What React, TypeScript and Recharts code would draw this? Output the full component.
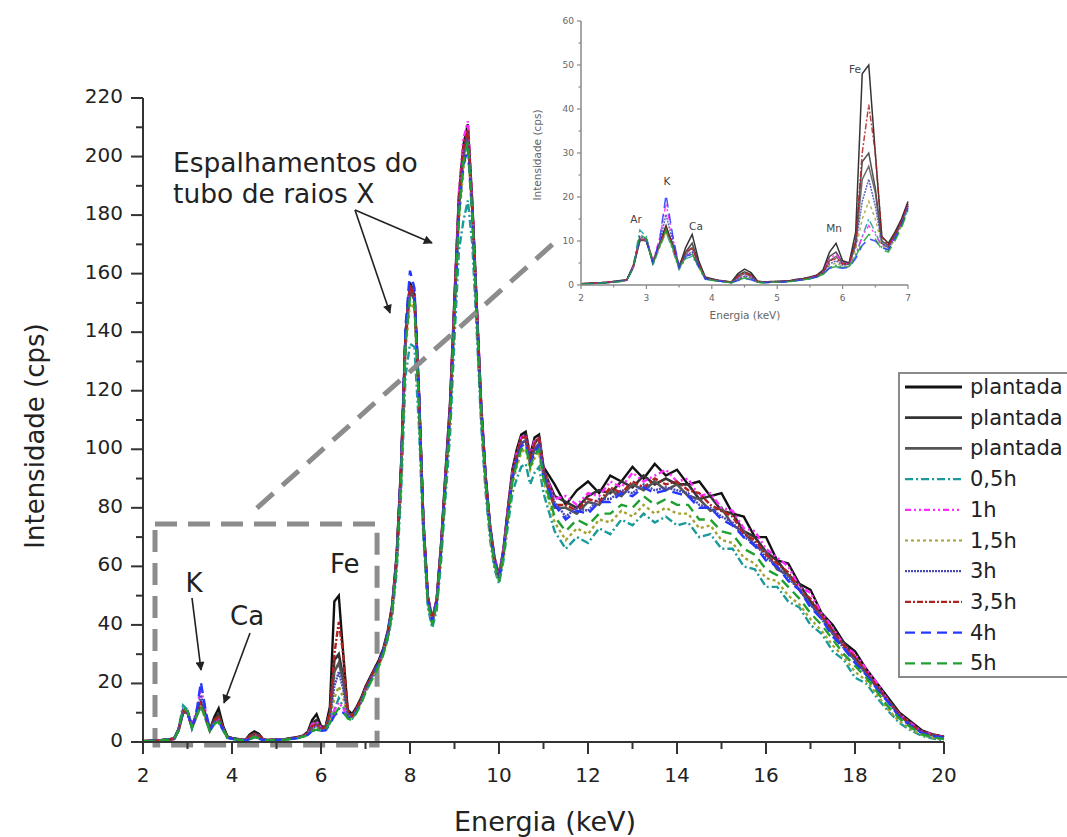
import React from 'react';
import { LineChart, Line, XAxis, YAxis, ReferenceArea, ReferenceLine } from 'recharts';

// energy channels (keV)
const energies = [
  2.0, 2.1, 2.2, 2.3, 2.4, 2.5, 2.6, 2.7, 2.8, 2.9,
  3.0, 3.1, 3.2, 3.3, 3.4, 3.5, 3.6, 3.7, 3.8, 3.9,
  4.0, 4.1, 4.2, 4.3, 4.4, 4.5, 4.6, 4.7, 4.8, 4.9,
  5.0, 5.1, 5.2, 5.3, 5.4, 5.5, 5.6, 5.7, 5.8, 5.9,
  6.0, 6.1, 6.2, 6.3, 6.4, 6.5, 6.6, 6.7, 6.8, 6.9,
  7.0, 7.1, 7.2,
  7.3, 7.4, 7.5, 7.6, 7.7, 7.8, 7.9,
  8.0, 8.1, 8.2, 8.3, 8.4, 8.5, 8.6, 8.7, 8.8, 8.9,
  9.0, 9.1, 9.2, 9.3, 9.4, 9.5, 9.6, 9.7, 9.8, 9.9,
  10.0, 10.1, 10.2, 10.3, 10.4, 10.5, 10.6, 10.7, 10.8, 10.9,
  11.0,
  11.25, 11.5, 11.75, 12.0, 12.25, 12.5, 12.75, 13.0, 13.25, 13.5,
  13.75, 14.0, 14.25, 14.5, 14.75, 15.0, 15.25, 15.5, 15.75, 16.0,
  16.25, 16.5, 16.75, 17.0, 17.25, 17.5, 17.75, 18.0, 18.25, 18.5,
  18.75, 19.0, 19.25, 19.5, 19.75, 20.0,
];

const plantada1 = [
  0.3, 0.4, 0.5, 0.5, 0.6, 0.8, 1.0, 1.2, 4.5, 10.5, 10.0, 5.0, 9.5, 13.5, 9.0, 4.0, 8.5, 11.5, 5.5, 1.8,
  1.4, 1.1, 0.9, 0.7, 2.6, 3.6, 2.8, 0.9, 0.7, 0.8, 0.8, 0.9, 1.0, 1.3, 1.5, 1.8, 2.2, 3.4, 7.5, 9.5,
  5.5, 5.0, 12.0, 48.0, 50.0, 30.0, 11.0, 9.5, 12.0, 15.0, 19.0, 22.0, 25.0,
  28, 32, 38, 47, 64, 95, 140, 157, 153, 120, 76, 50, 42, 49, 68, 93, 116,
  152, 187, 204, 211, 184, 149, 115, 91, 74, 63, 57, 66, 80, 93, 100, 105, 106, 98, 104, 105, 94,
  88, 81, 86, 89, 85, 91, 89, 94, 90, 95, 91, 93, 88, 89, 84, 85, 78, 77, 70, 70,
  62, 61, 54, 52, 44, 40, 34, 31, 25, 20, 15, 10, 7, 4, 2.6, 1.8,
];
const plantada2 = [
  0.3, 0.3, 0.4, 0.5, 0.6, 0.8, 0.9, 1.1, 4.0, 10.0, 10.5, 5.5, 9.0, 13.0, 9.5, 4.5, 7.5, 9.5, 5.0, 1.5,
  1.3, 1.0, 0.8, 0.6, 2.2, 3.0, 2.4, 0.8, 0.6, 0.7, 0.8, 0.8, 0.9, 1.2, 1.4, 1.7, 2.1, 3.0, 6.5, 7.5,
  5.0, 5.0, 10.0, 28.0, 30.0, 22.0, 10.0, 9.0, 11.5, 14.5, 18.5, 21.5, 24.5,
  27, 31, 37, 46, 63, 93, 139, 156, 152, 119, 75, 49, 41, 48, 67, 91, 114,
  150, 185, 202, 209, 183, 148, 114, 90, 73, 62, 56, 65, 79, 91, 98, 104, 105, 97, 102, 104, 93,
  84, 82, 80, 84, 86, 85, 89, 87, 91, 88, 90, 88, 88, 83, 84, 79, 78, 72, 70, 65,
  62, 57, 54, 48, 44, 38, 34, 29, 24, 19, 14.5, 9.5, 6.5, 3.5, 2.5, 1.6,
];
const plantada3 = [
  0.2, 0.3, 0.4, 0.5, 0.5, 0.7, 0.9, 1.1, 4.2, 10.2, 10.0, 5.2, 9.2, 12.5, 9.0, 4.2, 7.0, 8.5, 4.8, 1.6,
  1.2, 1.0, 0.8, 0.6, 1.8, 2.6, 2.0, 0.8, 0.6, 0.7, 0.7, 0.8, 0.9, 1.1, 1.4, 1.6, 2.0, 2.8, 5.5, 6.5,
  4.8, 4.6, 9.0, 24.0, 27.0, 21.0, 9.5, 8.5, 11.0, 14.0, 18.0, 21.0, 24.0,
  27, 31, 36, 45, 62, 92, 137, 154, 151, 118, 74, 49, 41, 48, 66, 90, 112,
  148, 183, 200, 207, 182, 147, 113, 89, 72, 61, 56, 64, 78, 90, 97, 102, 103, 95, 100, 102, 91,
  80, 80, 78, 82, 81, 86, 84, 88, 86, 89, 86, 88, 84, 83, 79, 80, 74, 72, 67, 65,
  59, 57, 52, 47, 43, 37, 33, 28, 23.5, 18.5, 14, 9, 6, 3.3, 2.3, 1.5,
];
const h05 = [
  0.2, 0.3, 0.3, 0.4, 0.5, 0.6, 0.8, 1.0, 4.5, 12.5, 11.0, 4.5, 8.5, 12.0, 8.0, 3.5, 6.0, 6.5, 4.0, 1.3,
  1.1, 0.9, 0.7, 0.5, 1.2, 1.8, 1.5, 0.6, 0.5, 0.6, 0.7, 0.7, 0.8, 1.0, 1.2, 1.4, 1.8, 2.4, 4.0, 4.5,
  4.0, 4.2, 6.5, 11.0, 15.0, 12.0, 8.5, 8.0, 10.5, 13.5, 17.0, 20.0, 23.0,
  26, 30, 35, 43, 58, 85, 125, 136, 135, 108, 70, 46, 39, 45, 62, 84, 105,
  138, 168, 178, 185, 170, 140, 108, 85, 69, 59, 54, 62, 74, 85, 90, 94, 95, 88, 92, 94, 85,
  72, 66, 70, 68, 73, 71, 76, 74, 78, 75, 77, 74, 75, 70, 71, 66, 66, 60, 59, 53,
  53, 48, 46, 40, 37, 31, 28, 22, 20, 15, 10.5, 6.5, 4, 2.1, 1.2, 0.6,
];
const h1 = [
  0.3, 0.3, 0.4, 0.5, 0.6, 0.7, 0.9, 1.1, 4.0, 11.0, 10.0, 5.5, 10.5, 18.5, 11.0, 4.5, 6.5, 7.5, 4.5, 1.5,
  1.2, 1.0, 0.8, 0.6, 1.5, 2.2, 1.8, 0.7, 0.6, 0.7, 0.8, 0.8, 0.9, 1.1, 1.3, 1.6, 2.0, 3.0, 6.0, 7.0,
  5.0, 4.8, 7.0, 11.0, 13.5, 11.5, 9.0, 8.5, 11.0, 14.0, 18.0, 21.0, 24.0,
  27, 31, 37, 46, 63, 94, 140, 156, 153, 119, 76, 50, 42, 49, 68, 92, 116,
  152, 188, 206, 212, 185, 150, 116, 91, 74, 63, 57, 66, 80, 92, 99, 104, 105, 98, 103, 104, 93,
  83, 84, 81, 85, 84, 89, 87, 92, 89, 91, 93, 89, 90, 84, 85, 80, 79, 73, 72, 66,
  63, 60, 53, 51, 44, 39, 33, 30, 25, 20, 14, 9.5, 6.5, 3.6, 2.6, 1.7,
];
const h15 = [
  0.2, 0.3, 0.4, 0.4, 0.5, 0.7, 0.8, 1.0, 4.0, 10.5, 10.5, 5.0, 8.5, 12.0, 8.5, 3.8, 6.5, 7.0, 4.3, 1.4,
  1.1, 0.9, 0.7, 0.5, 1.3, 1.9, 1.6, 0.6, 0.5, 0.6, 0.7, 0.7, 0.8, 1.0, 1.2, 1.5, 1.9, 2.6, 4.5, 5.0,
  4.2, 4.5, 8.0, 15.0, 19.0, 15.0, 9.0, 8.0, 10.5, 13.5, 17.5, 20.5, 23.5,
  26, 30, 36, 45, 61, 90, 134, 150, 148, 115, 73, 48, 41, 47, 65, 88, 110,
  145, 178, 196, 203, 179, 145, 112, 88, 71, 60, 55, 63, 76, 88, 94, 99, 100, 93, 97, 99, 89,
  75, 69, 73, 71, 76, 75, 79, 77, 81, 78, 80, 78, 78, 73, 74, 69, 68, 63, 61, 56,
  55, 50, 47, 42, 38, 33, 29, 24, 21, 16, 11, 7, 4.5, 2.4, 1.4, 0.8,
];
const h3 = [
  0.3, 0.3, 0.4, 0.5, 0.6, 0.7, 0.9, 1.1, 4.3, 11.0, 10.5, 5.0, 9.5, 16.0, 10.0, 4.0, 6.8, 7.5, 4.5, 1.5,
  1.2, 1.0, 0.8, 0.6, 1.4, 2.0, 1.7, 0.7, 0.6, 0.7, 0.8, 0.8, 0.9, 1.1, 1.3, 1.6, 2.0, 2.7, 4.8, 5.5,
  4.5, 4.8, 9.0, 19.0, 24.0, 18.0, 9.5, 8.5, 11.0, 14.0, 18.0, 21.0, 24.5,
  27, 31, 37, 46, 62, 93, 139, 156, 153, 119, 75, 49, 42, 48, 67, 91, 113,
  149, 184, 201, 208, 182, 148, 114, 90, 73, 62, 56, 65, 78, 90, 97, 102, 103, 96, 100, 102, 92,
  82, 77, 80, 79, 83, 83, 86, 85, 88, 86, 87, 86, 85, 81, 80, 77, 75, 70, 68, 63,
  60, 56, 52, 47, 42, 37, 32, 28, 23, 18.5, 13.5, 9, 6, 3.2, 2.2, 1.5,
];
const h35 = [
  0.3, 0.4, 0.4, 0.5, 0.6, 0.8, 0.9, 1.2, 4.2, 10.5, 10.0, 5.0, 9.0, 13.0, 9.0, 4.0, 7.5, 8.5, 4.8, 1.6,
  1.3, 1.0, 0.8, 0.6, 2.0, 2.8, 2.2, 0.8, 0.6, 0.7, 0.8, 0.8, 0.9, 1.2, 1.4, 1.7, 2.1, 3.0, 5.5, 6.0,
  4.8, 5.0, 10.0, 30.0, 41.0, 30.0, 11.0, 9.0, 11.5, 14.5, 18.5, 21.5, 25.0,
  27, 31, 37, 46, 63, 93, 139, 156, 152, 119, 75, 50, 42, 48, 67, 91, 114,
  150, 185, 203, 209, 183, 148, 114, 90, 73, 62, 56, 65, 79, 91, 98, 104, 104, 97, 102, 104, 93,
  81, 81, 79, 83, 82, 87, 85, 89, 87, 90, 88, 89, 86, 85, 81, 79, 77, 71, 69, 64,
  61, 58, 52, 49, 43, 38, 33, 29, 24, 19, 14, 9.5, 6, 3.4, 2.4, 1.7,
];
const h4 = [
  0.3, 0.3, 0.4, 0.5, 0.5, 0.7, 0.9, 1.1, 4.0, 10.5, 10.0, 5.0, 10.0, 20.5, 11.5, 4.0, 6.5, 7.0, 4.2, 1.4,
  1.1, 0.9, 0.7, 0.5, 1.0, 1.5, 1.2, 0.6, 0.5, 0.6, 0.7, 0.7, 0.8, 1.0, 1.2, 1.4, 1.8, 2.4, 3.8, 4.0,
  3.8, 4.0, 6.0, 9.0, 10.5, 10.0, 8.5, 8.0, 10.5, 13.5, 17.5, 20.5, 23.5,
  27, 31, 37, 46, 62, 94, 142, 161, 155, 120, 75, 49, 41, 48, 66, 90, 112,
  147, 181, 197, 203, 180, 147, 114, 90, 73, 62, 56, 65, 78, 90, 96, 101, 102, 95, 99, 101, 91,
  81, 76, 79, 78, 82, 82, 85, 84, 87, 85, 86, 85, 84, 80, 80, 76, 74, 70, 67, 62,
  60, 55, 52, 46, 42, 36, 32, 27, 23, 18, 13.5, 8.5, 5.5, 3.1, 2.1, 1.4,
];
const h5 = [
  0.3, 0.3, 0.4, 0.4, 0.5, 0.7, 0.8, 1.0, 4.0, 11.5, 10.5, 4.8, 8.8, 12.5, 8.5, 3.8, 6.2, 7.0, 4.2, 1.4,
  1.1, 0.9, 0.7, 0.5, 1.1, 1.6, 1.3, 0.6, 0.5, 0.6, 0.7, 0.7, 0.8, 1.0, 1.2, 1.4, 1.8, 2.4, 3.8, 4.2,
  3.9, 4.2, 6.5, 9.5, 11.5, 10.5, 8.0, 7.5, 10.0, 13.0, 17.0, 20.0, 23.0,
  26, 30, 36, 45, 61, 91, 136, 152, 150, 116, 74, 48, 40, 47, 65, 89, 111,
  146, 180, 198, 205, 180, 146, 113, 89, 72, 61, 55, 64, 77, 89, 95, 100, 101, 94, 98, 100, 90,
  77, 72, 76, 74, 78, 78, 81, 80, 84, 81, 83, 81, 81, 76, 76, 72, 71, 66, 64, 59,
  57, 53, 49, 44, 40, 35, 30, 26, 22, 17, 12, 8, 5, 2.7, 1.7, 1.0,
];

const seriesNames = ['plantada', 'plantada', 'plantada', '0,5h', '1h', '1,5h', '3h', '3,5h', '4h', '5h'];

const xTicks = [2, 3, 4, 5, 6, 7, 8, 9, 10, 11, 12, 13, 14, 15, 16, 17, 18, 19, 20];
const yTicks = [0, 10, 20, 30, 40, 50, 60, 70, 80, 90, 100, 110, 120, 130, 140, 150, 160, 170, 180, 190, 200, 210, 220];
const insetXTicks = [2, 2.5, 3, 3.5, 4, 4.5, 5, 5.5, 6, 6.5, 7];
const insetYTicks = [0, 5, 10, 15, 20, 25, 30, 35, 40, 45, 50, 55, 60];

const FONT = '"DejaVu Sans", sans-serif';

const series = [
  { key: 'p1', values: plantada1, color: '#111111', dash: undefined, width: 2.4 },
  { key: 'p2', values: plantada2, color: '#333333', dash: undefined, width: 2.6 },
  { key: 'p3', values: plantada3, color: '#555555', dash: undefined, width: 2.6 },
  { key: 'h05', values: h05, color: '#1a9a9a', dash: '8 3 2 3', width: 2.4 },
  { key: 'h1', values: h1, color: '#ff2aff', dash: '6 3 2 3 2 3', width: 2.4 },
  { key: 'h15', values: h15, color: '#a3a333', dash: '3 3', width: 2.4 },
  { key: 'h3', values: h3, color: '#4848b4', dash: '2 1', width: 2.4 },
  { key: 'h35', values: h35, color: '#b02222', dash: '6 2 2 2', width: 2.4 },
  { key: 'h4', values: h4, color: '#2438ff', dash: '10 6', width: 2.4 },
  { key: 'h5', values: h5, color: '#20a030', dash: '10 6', width: 2.4 },
];

const rows = energies.map((e, i) => {
  const r: Record<string, number> = { e };
  series.forEach((s) => {
    r[s.key] = s.values[i];
  });
  return r;
});
const insetRows = rows.filter((r) => r.e <= 7.001);

const MainXTick = (props: any) => {
  const { x, y, payload } = props;
  const v = payload.value;
  const major = v % 2 === 0;
  return (
    <g>
      <line x1={x} y1={y} x2={x} y2={y + (major ? 12 : 7)} stroke="#333" strokeWidth={2} />
      {major && (
        <text x={x} y={y + 40} textAnchor="middle" fontSize={20} fill="#222" fontFamily={FONT}>
          {v}
        </text>
      )}
    </g>
  );
};

const MainYTick = (props: any) => {
  const { x, y, payload } = props;
  const v = payload.value;
  const major = v % 20 === 0;
  return (
    <g>
      <line x1={x - (major ? 12 : 7)} y1={y} x2={x} y2={y} stroke="#333" strokeWidth={2} />
      {major && (
        <text x={x - 20} y={y + 5} textAnchor="end" fontSize={20} fill="#222" fontFamily={FONT}>
          {v}
        </text>
      )}
    </g>
  );
};

const InsetXTick = (props: any) => {
  const { x, y, payload } = props;
  const v = payload.value;
  const major = Number.isInteger(v);
  return (
    <g>
      <line x1={x} y1={y} x2={x} y2={y + (major ? 4 : 2.5)} stroke="#888" strokeWidth={1.2} />
      {major && (
        <text x={x} y={y + 16} textAnchor="middle" fontSize={9} fill="#666" fontFamily={FONT}>
          {v}
        </text>
      )}
    </g>
  );
};

const InsetYTick = (props: any) => {
  const { x, y, payload } = props;
  const v = payload.value;
  const major = v % 10 === 0;
  return (
    <g>
      <line x1={x - (major ? 4 : 2.5)} y1={y} x2={x} y2={y} stroke="#888" strokeWidth={1.2} />
      {major && (
        <text x={x - 7} y={y + 3} textAnchor="end" fontSize={9} fill="#666" fontFamily={FONT}>
          {v}
        </text>
      )}
    </g>
  );
};

export default function App() {
  return (
    <div style={{ position: 'absolute', left: 0, top: 0, width: 1067, height: 837, background: '#fff', fontFamily: FONT }}>
      {/* main spectrum */}
      <div style={{ position: 'absolute', left: 0, top: 0 }}>
        <LineChart width={1067} height={837} data={rows} margin={{ top: 98, right: 123, bottom: 55, left: 73 }}>
          <XAxis
            dataKey="e"
            type="number"
            domain={[2, 20]}
            ticks={xTicks}
            interval={0}
            tickSize={0}
            tickMargin={0}
            height={40}
            axisLine={{ stroke: '#333', strokeWidth: 2 }}
            tickLine={false}
            tick={<MainXTick />}
          />
          <YAxis
            type="number"
            domain={[0, 220]}
            ticks={yTicks}
            interval={0}
            tickSize={0}
            tickMargin={0}
            width={70}
            axisLine={{ stroke: '#333', strokeWidth: 2 }}
            tickLine={false}
            tick={<MainYTick />}
          />
          {series.map((s) => (
            <Line
              key={s.key}
              type="linear"
              dataKey={s.key}
              stroke={s.color}
              strokeWidth={s.width}
              strokeDasharray={s.dash}
              dot={false}
              isAnimationActive={false}
            />
          ))}
          <ReferenceArea
            x1={2.27}
            x2={7.26}
            y1={-1}
            y2={74.5}
            ifOverflow="visible"
            fill="none"
            stroke="#8c8c8c"
            strokeWidth={5}
            strokeDasharray="22 11"
          />
          <ReferenceLine
            segment={[{ x: 4.56, y: 79.9 }, { x: 11.21, y: 170.1 }]}
            ifOverflow="visible"
            stroke="#8c8c8c"
            strokeWidth={5}
            strokeDasharray="22 12"
          />
        </LineChart>
      </div>

      {/* inset 2-7 keV */}
      <div style={{ position: 'absolute', left: 500, top: 0 }}>
        <LineChart width={430} height={330} data={insetRows} margin={{ top: 21, right: 22, bottom: 25, left: 51 }}>
          <XAxis
            dataKey="e"
            type="number"
            domain={[2, 7]}
            ticks={insetXTicks}
            interval={0}
            tickSize={0}
            tickMargin={0}
            height={20}
            axisLine={{ stroke: '#888', strokeWidth: 1.5 }}
            tickLine={false}
            tick={<InsetXTick />}
          />
          <YAxis
            type="number"
            domain={[0, 60]}
            ticks={insetYTicks}
            interval={0}
            tickSize={0}
            tickMargin={0}
            width={30}
            axisLine={{ stroke: '#888', strokeWidth: 1.5 }}
            tickLine={false}
            tick={<InsetYTick />}
          />
          {series.map((s) => (
            <Line
              key={s.key}
              type="linear"
              dataKey={s.key}
              stroke={s.color}
              strokeWidth={1.5}
              strokeDasharray={s.dash}
              strokeOpacity={0.85}
              dot={false}
              isAnimationActive={false}
            />
          ))}
        </LineChart>
      </div>

      {/* annotations */}
      <svg width={1067} height={837} style={{ position: 'absolute', left: 0, top: 0, pointerEvents: 'none' }}>
        <defs>
          <marker id="arrow" viewBox="0 0 10 10" refX="9" refY="5" markerWidth="11" markerHeight="9" markerUnits="userSpaceOnUse" orient="auto">
            <path d="M0,0 L10,5 L0,10 z" fill="#222" />
          </marker>
        </defs>
        <text x={35} y={436} textAnchor="middle" dominantBaseline="central" fontSize={26} fill="#222" fontFamily={FONT} transform="rotate(-90 35 436)">
          Intensidade (cps)
        </text>
        <text x={545} y={831} textAnchor="middle" fontSize={27} fill="#222" fontFamily={FONT}>
          Energia (keV)
        </text>
        <text x={173} y={172} fontSize={26.5} fill="#222" fontFamily={FONT}>Espalhamentos do</text>
        <text x={173} y={203} fontSize={26.5} fill="#222" fontFamily={FONT}>tubo de raios X</text>
        <line x1={355} y1={210} x2={390} y2={313} stroke="#222" strokeWidth={1.6} markerEnd="url(#arrow)" />
        <line x1={355} y1={210} x2={432} y2={243} stroke="#222" strokeWidth={1.6} markerEnd="url(#arrow)" />
        <text x={194} y={592} textAnchor="middle" fontSize={26} fill="#222" fontFamily={FONT}>K</text>
        <line x1={192} y1={598} x2={201} y2={670} stroke="#222" strokeWidth={1.6} markerEnd="url(#arrow)" />
        <text x={230} y={625} fontSize={26} fill="#222" fontFamily={FONT}>Ca</text>
        <line x1={250} y1={633} x2={224} y2={703} stroke="#222" strokeWidth={1.6} markerEnd="url(#arrow)" />
        <text x={330} y={573} fontSize={26} fill="#222" fontFamily={FONT}>Fe</text>

        {/* inset labels */}
        <text x={537} y={155} textAnchor="middle" dominantBaseline="central" fontSize={10.5} fill="#666" fontFamily={FONT} transform="rotate(-90 537 155)">
          Intensidade (cps)
        </text>
        <text x={745} y={319} textAnchor="middle" fontSize={10.5} fill="#666" fontFamily={FONT}>Energia (keV)</text>
        <text x={636} y={223} textAnchor="middle" fontSize={10.5} fill="#444" fontFamily={FONT}>Ar</text>
        <text x={667} y={185} textAnchor="middle" fontSize={10.5} fill="#444" fontFamily={FONT}>K</text>
        <text x={696} y={230} textAnchor="middle" fontSize={10.5} fill="#444" fontFamily={FONT}>Ca</text>
        <text x={834} y={232} textAnchor="middle" fontSize={10.5} fill="#444" fontFamily={FONT}>Mn</text>
        <text x={855} y={73} textAnchor="middle" fontSize={10.5} fill="#444" fontFamily={FONT}>Fe</text>
      </svg>

      {/* legend */}
      <div
        style={{
          position: 'absolute',
          left: 898,
          top: 372,
          width: 175,
          height: 306,
          border: '2px solid #8a8a8a',
          background: '#fff',
          boxSizing: 'border-box',
        }}
      >
        <svg width={175} height={306}>
          {series.map((s, i) => {
            const cy = 13 + i * 30.7;
            return (
              <g key={s.key}>
                <line x1={5} y1={cy} x2={62} y2={cy} stroke={s.color} strokeWidth={s.dash ? 2.2 : 2.8} strokeDasharray={s.dash} />
                <text x={70} y={cy + 7} fontSize={21} fill="#222" fontFamily={FONT}>
                  {seriesNames[i]}
                </text>
              </g>
            );
          })}
        </svg>
      </div>
    </div>
  );
}
